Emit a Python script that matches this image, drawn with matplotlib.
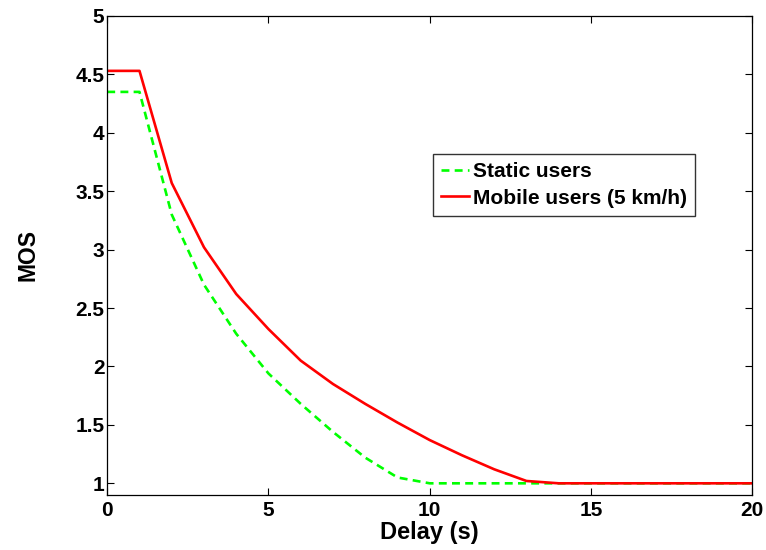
import matplotlib
matplotlib.use("Agg")
import matplotlib.pyplot as plt

plt.rcParams['font.family'] = ['Liberation Sans', 'DejaVu Sans']

delay = list(range(0, 21))
static_mos = [4.35, 4.35, 3.30, 2.70, 2.28, 1.94, 1.68, 1.44, 1.22, 1.05, 1.0,
              1.0, 1.0, 1.0, 1.0, 1.0, 1.0, 1.0, 1.0, 1.0, 1.0]
mobile_mos = [4.53, 4.53, 3.57, 3.02, 2.62, 2.32, 2.05, 1.85, 1.68, 1.52, 1.37,
              1.24, 1.12, 1.02, 1.0, 1.0, 1.0, 1.0, 1.0, 1.0, 1.0]

fig = plt.figure(figsize=(7.66, 5.5), dpi=100)
ax = fig.add_axes([0.140, 0.100, 0.842, 0.871])

ax.plot(delay, static_mos, linestyle='--', color='#00ff00', linewidth=1.9,
        dashes=(3, 2), label='Static users')
ax.plot(delay, mobile_mos, linestyle='-', color='#ff0000', linewidth=1.9,
        label='Mobile users (5 km/h)')

ax.set_xlim(0, 20)
ax.set_ylim(0.9, 5)
ax.set_xticks([0, 5, 10, 15, 20])
ax.set_yticks([1, 1.5, 2, 2.5, 3, 3.5, 4, 4.5, 5])
ax.set_yticklabels(['1', '1.5', '2', '2.5', '3', '3.5', '4', '4.5', '5'])
ax.tick_params(direction='in', top=True, right=True, labelsize=15, length=5,
               width=0.8, pad=2)
ax.tick_params(axis='x', pad=4)
for lab in ax.get_xticklabels() + ax.get_yticklabels():
    lab.set_fontweight('bold')
for s in ax.spines.values():
    s.set_linewidth(0.9)

ax.set_xlabel('Delay (s)', fontsize=17, fontweight='bold', labelpad=1)
ax.set_ylabel('MOS', fontsize=16.5, fontweight='bold', labelpad=26)

leg = ax.legend(loc='upper left', bbox_to_anchor=(0.505, 0.712),
                prop={'size': 15, 'weight': 'bold'},
                frameon=True, fancybox=False, edgecolor='black',
                handlelength=1.35, handletextpad=0.15, borderpad=0.4,
                labelspacing=0.35, borderaxespad=0)
leg.get_frame().set_linewidth(1.0)

fig.savefig('out.png', dpi=100)
